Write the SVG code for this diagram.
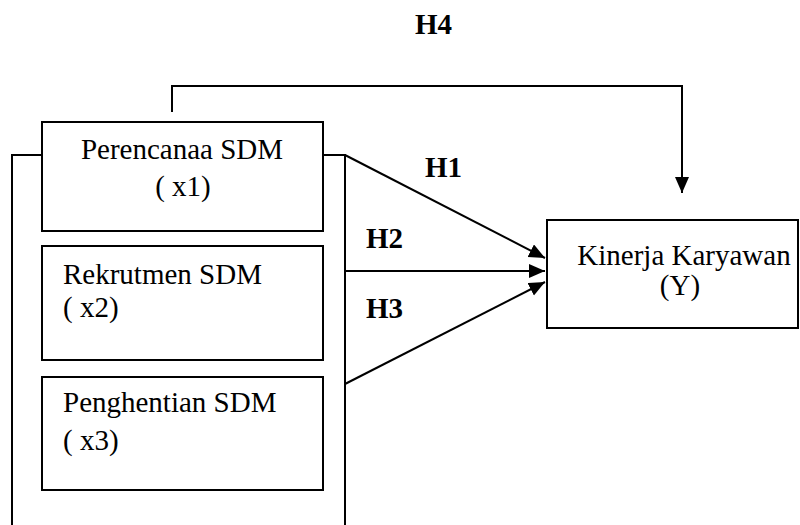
<svg xmlns="http://www.w3.org/2000/svg" width="800" height="525" viewBox="0 0 800 525">
<defs>
<style>
.box{fill:#fff;stroke:#000;stroke-width:2}
.ln{fill:none;stroke:#000;stroke-width:2}
.t{font-family:"Liberation Serif","Times New Roman",serif;font-size:29px;fill:#000}
.b{font-family:"Liberation Serif","Times New Roman",serif;font-size:29px;font-weight:bold;fill:#000}
</style>
<marker id="ah" markerUnits="userSpaceOnUse" markerWidth="18" markerHeight="16" refX="16" refY="7" orient="auto">
<path d="M0,0 L16,7 L0,14 Z" fill="#000"/>
</marker>
</defs>
<rect width="800" height="525" fill="#fff"/>
<g id="connectors">
<path class="ln" d="M172,112 V86 H682 V193" marker-end="url(#ah)"/>
<path class="ln" d="M42,155 H12 V525"/>
<path class="ln" d="M323,155 H345 V525"/>
<line class="ln" x1="345" y1="155" x2="545" y2="258" marker-end="url(#ah)"/>
<line class="ln" x1="345" y1="271" x2="545" y2="271" marker-end="url(#ah)"/>
<line class="ln" x1="345" y1="384" x2="545" y2="282" marker-end="url(#ah)"/>
</g>
<g id="labels">
<text class="b" x="415" y="34">H4</text>
<text class="b" x="425" y="177">H1</text>
<text class="b" x="366" y="248">H2</text>
<text class="b" x="366" y="318">H3</text>
</g>
<g id="x1">
<rect class="box" x="42" y="122" width="281" height="109"/>
<text class="t" x="182" y="159" text-anchor="middle">Perencanaa SDM</text>
<text class="t" x="183" y="196" text-anchor="middle">( x1)</text>
</g>
<g id="x2">
<rect class="box" x="42" y="246" width="281" height="114"/>
<text class="t" x="63" y="284">Rekrutmen SDM</text>
<text class="t" x="63" y="317">( x2)</text>
</g>
<g id="x3">
<rect class="box" x="42" y="377" width="281" height="113"/>
<text class="t" x="63" y="412">Penghentian SDM</text>
<text class="t" x="63" y="450">( x3)</text>
</g>
<g id="y">
<rect class="box" x="547" y="220" width="251" height="108"/>
<text class="t" x="684" y="265" text-anchor="middle">Kinerja Karyawan</text>
<text class="t" x="680" y="295" text-anchor="middle">(Y)</text>
</g>
</svg>
